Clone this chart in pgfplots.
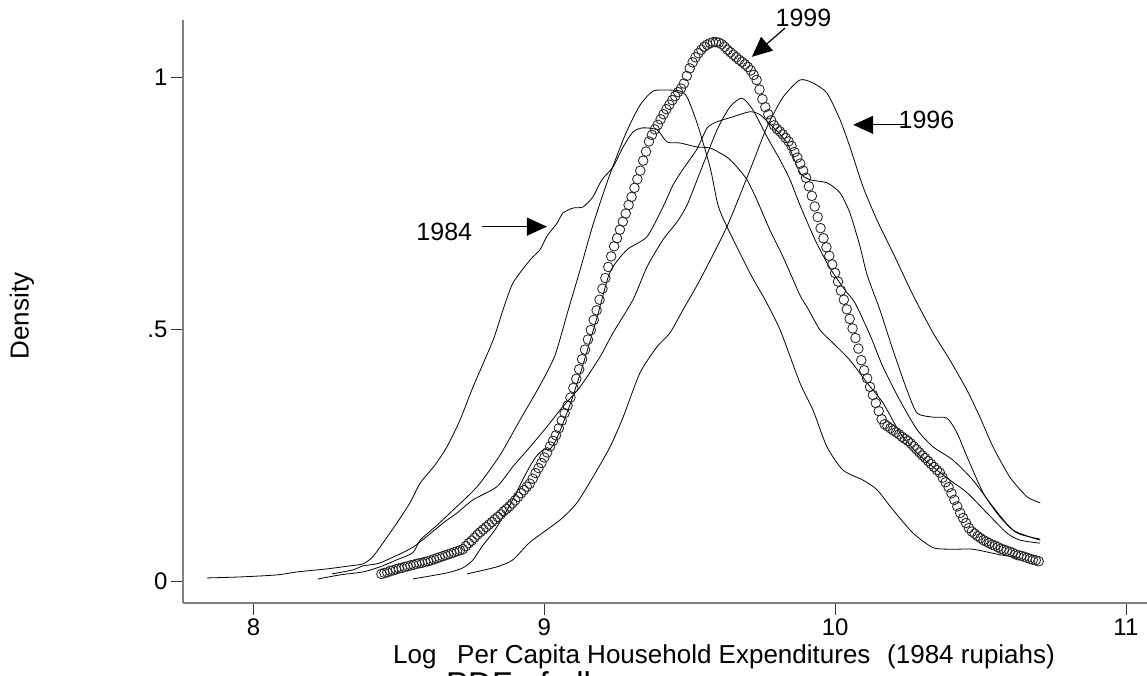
\documentclass[border=0pt]{standalone}
\usepackage{fontspec}
\setmainfont{Liberation Sans}
\usepackage{pgfplots}
\usepackage{pgfplotstable}
\pgfplotsset{compat=1.18}
\usetikzlibrary{arrows.meta}
\pgfplotstableread{
x y
8.44 0.015
8.45 0.017
8.46 0.018
8.47 0.021
8.48 0.022
8.49 0.024
8.50 0.026
8.51 0.027
8.52 0.029
8.53 0.030
8.54 0.032
8.55 0.033
8.56 0.035
8.57 0.036
8.58 0.037
8.59 0.039
8.60 0.040
8.61 0.042
8.62 0.044
8.63 0.046
8.64 0.048
8.65 0.050
8.66 0.052
8.67 0.054
8.68 0.056
8.69 0.058
8.70 0.060
8.71 0.062
8.72 0.064
8.73 0.070
8.74 0.076
8.75 0.081
8.76 0.087
8.77 0.093
8.78 0.098
8.79 0.103
8.80 0.108
8.81 0.113
8.82 0.118
8.83 0.123
8.84 0.128
8.85 0.133
8.86 0.139
8.87 0.144
8.88 0.149
8.89 0.155
8.90 0.161
8.91 0.168
8.92 0.175
8.93 0.181
8.94 0.188
8.95 0.194
8.96 0.204
8.97 0.215
8.98 0.225
8.99 0.235
9.00 0.246
9.01 0.256
9.02 0.268
9.03 0.279
9.04 0.290
9.05 0.304
9.06 0.319
9.07 0.334
9.08 0.349
9.09 0.365
9.10 0.384
9.11 0.402
9.12 0.421
9.13 0.441
9.14 0.460
9.15 0.480
9.16 0.499
9.17 0.519
9.18 0.538
9.19 0.559
9.20 0.581
9.21 0.602
9.22 0.624
9.23 0.645
9.24 0.665
9.25 0.681
9.26 0.698
9.27 0.714
9.28 0.730
9.29 0.747
9.30 0.763
9.31 0.781
9.32 0.798
9.33 0.815
9.34 0.835
9.35 0.853
9.36 0.873
9.37 0.886
9.38 0.897
9.39 0.906
9.40 0.917
9.41 0.927
9.42 0.937
9.43 0.946
9.44 0.955
9.45 0.963
9.46 0.971
9.47 0.978
9.48 0.988
9.49 1.003
9.50 1.018
9.51 1.030
9.52 1.040
9.53 1.048
9.54 1.055
9.55 1.061
9.56 1.065
9.57 1.068
9.58 1.070
9.59 1.070
9.60 1.069
9.61 1.066
9.62 1.061
9.63 1.055
9.64 1.050
9.65 1.045
9.66 1.040
9.67 1.035
9.68 1.031
9.69 1.026
9.70 1.021
9.71 1.014
9.72 1.005
9.73 0.995
9.74 0.976
9.75 0.957
9.76 0.941
9.77 0.927
9.78 0.915
9.79 0.905
9.80 0.898
9.81 0.893
9.82 0.887
9.83 0.880
9.84 0.873
9.85 0.864
9.86 0.852
9.87 0.841
9.88 0.829
9.89 0.815
9.90 0.801
9.91 0.784
9.92 0.765
9.93 0.744
9.94 0.723
9.95 0.701
9.96 0.681
9.97 0.663
9.98 0.646
9.99 0.629
10.00 0.612
10.01 0.595
10.02 0.577
10.03 0.559
10.04 0.540
10.05 0.521
10.06 0.502
10.07 0.483
10.08 0.462
10.09 0.439
10.10 0.419
10.11 0.403
10.12 0.386
10.13 0.370
10.14 0.354
10.15 0.338
10.16 0.322
10.17 0.312
10.18 0.308
10.19 0.304
10.20 0.300
10.21 0.296
10.22 0.292
10.23 0.287
10.24 0.283
10.25 0.279
10.26 0.274
10.27 0.268
10.28 0.262
10.29 0.256
10.30 0.250
10.31 0.245
10.32 0.239
10.33 0.233
10.34 0.227
10.35 0.221
10.36 0.216
10.37 0.206
10.38 0.197
10.39 0.187
10.40 0.175
10.41 0.162
10.42 0.149
10.43 0.136
10.44 0.126
10.45 0.116
10.46 0.106
10.47 0.099
10.48 0.095
10.49 0.090
10.50 0.086
10.51 0.082
10.52 0.079
10.53 0.076
10.54 0.073
10.55 0.071
10.56 0.068
10.57 0.065
10.58 0.063
10.59 0.061
10.60 0.059
10.61 0.057
10.62 0.054
10.63 0.052
10.64 0.051
10.65 0.049
10.66 0.047
10.67 0.045
10.68 0.043
10.69 0.042
10.70 0.040
}\circlesdata
\begin{document}
\begin{tikzpicture}
\useasboundingbox (0,0) rectangle (1147bp,676bp);
\clip (0,0) rectangle (1147bp,676bp);
\begin{axis}[
  at={(183bp,73bp)}, anchor=south west, scale only axis,
  width=964bp, height=583bp,
  xmin=7.7576, xmax=11.0725, ymin=-0.0427, ymax=1.114,
  axis x line*=bottom, axis y line*=left,
  axis line style={-, draw=black!50, line width=1.8bp},
  xtick={8,9,10,11}, xticklabels={8,9,10,11},
  ytick={0,0.5,1}, yticklabels={0,.5,1},
  tick align=outside, major tick length=12bp,
  tick style={black!80, line width=0.7bp},
  ticklabel style={font=\fontsize{24bp}{24bp}\selectfont},
  /pgf/number format/assume math mode=true,
  clip=false,
]
% 1984
\addplot[black, line width=0.8bp, smooth, tension=0.4] coordinates {
(7.840,0.007) (7.954,0.009) (8.081,0.013) (8.150,0.019) (8.253,0.025) (8.332,0.031) (8.377,0.035) (8.407,0.047) (8.435,0.068) (8.493,0.116) (8.538,0.156) (8.573,0.195) (8.624,0.231) (8.665,0.267) (8.710,0.320) (8.755,0.386) (8.824,0.479) (8.858,0.539) (8.892,0.592) (8.951,0.638) (8.985,0.658) (9.009,0.685) (9.044,0.711) (9.064,0.731) (9.099,0.741) (9.133,0.743) (9.167,0.763) (9.198,0.797) (9.236,0.822) (9.271,0.862) (9.305,0.892) (9.339,0.900) (9.388,0.896) (9.422,0.872) (9.467,0.870) (9.525,0.862) (9.570,0.860) (9.628,0.842) (9.663,0.822) (9.697,0.797) (9.731,0.757) (9.776,0.697) (9.821,0.644) (9.879,0.568) (9.903,0.545) (9.948,0.499) (9.993,0.473) (10.051,0.439) (10.110,0.394) (10.165,0.354) (10.223,0.295) (10.282,0.255) (10.337,0.227) (10.395,0.201) (10.454,0.176) (10.522,0.136) (10.591,0.096) (10.636,0.082) (10.705,0.076)};
% B
\addplot[black, line width=0.8bp, smooth, tension=0.4] coordinates {
(8.222,0.005) (8.297,0.013) (8.377,0.019) (8.435,0.029) (8.493,0.043) (8.548,0.057) (8.573,0.082) (8.624,0.108) (8.676,0.136) (8.769,0.188) (8.848,0.251) (8.916,0.320) (8.985,0.389) (9.037,0.449) (9.082,0.538) (9.123,0.618) (9.167,0.707) (9.219,0.797) (9.278,0.886) (9.329,0.945) (9.374,0.973) (9.425,0.975) (9.467,0.973) (9.491,0.961) (9.525,0.910) (9.570,0.822) (9.597,0.747) (9.628,0.704) (9.707,0.612) (9.759,0.559) (9.811,0.499) (9.879,0.394) (9.924,0.340) (9.972,0.267) (10.027,0.221) (10.096,0.201) (10.144,0.182) (10.199,0.142) (10.268,0.096) (10.337,0.067) (10.405,0.064) (10.474,0.064) (10.567,0.053) (10.636,0.047)};
% C
\addplot[black, line width=0.8bp, smooth, tension=0.4] coordinates {
(8.548,0.005) (8.665,0.017) (8.720,0.027) (8.755,0.043) (8.789,0.072) (8.830,0.102) (8.882,0.152) (8.934,0.211) (8.968,0.245) (8.996,0.261) (9.020,0.263) (9.044,0.285) (9.088,0.350) (9.133,0.430) (9.181,0.523) (9.226,0.614) (9.284,0.658) (9.353,0.684) (9.408,0.743) (9.443,0.787) (9.477,0.818) (9.525,0.858) (9.560,0.900) (9.594,0.912) (9.649,0.922) (9.707,0.932) (9.742,0.926) (9.786,0.902) (9.835,0.870) (9.879,0.811) (9.914,0.797) (9.972,0.791) (10.017,0.771) (10.051,0.731) (10.086,0.664) (10.110,0.608) (10.154,0.539) (10.199,0.459) (10.247,0.380) (10.282,0.334) (10.337,0.326) (10.385,0.324) (10.419,0.295) (10.454,0.247) (10.509,0.176) (10.567,0.128) (10.626,0.096) (10.705,0.084)};
% D
\addplot[black, line width=0.8bp, smooth, tension=0.4] coordinates {
(8.270,0.015) (8.342,0.023) (8.377,0.031) (8.435,0.037) (8.548,0.068) (8.652,0.116) (8.700,0.136) (8.755,0.162) (8.837,0.188) (8.892,0.228) (8.951,0.267) (9.009,0.307) (9.064,0.347) (9.123,0.386) (9.192,0.446) (9.236,0.493) (9.305,0.559) (9.353,0.624) (9.408,0.678) (9.456,0.713) (9.491,0.747) (9.535,0.811) (9.594,0.896) (9.639,0.942) (9.680,0.959) (9.718,0.935) (9.766,0.882) (9.811,0.836) (9.845,0.797) (9.879,0.747) (9.931,0.678) (9.982,0.622) (10.034,0.578) (10.068,0.553) (10.120,0.489) (10.165,0.425) (10.223,0.359) (10.282,0.301) (10.337,0.267) (10.405,0.241) (10.474,0.201) (10.543,0.148) (10.612,0.102) (10.705,0.082)};
% 1996
\addplot[black, line width=0.8bp, smooth, tension=0.4] coordinates {
(8.734,0.015) (8.837,0.029) (8.892,0.043) (8.951,0.078) (9.054,0.122) (9.112,0.156) (9.167,0.207) (9.226,0.267) (9.271,0.326) (9.329,0.414) (9.388,0.466) (9.432,0.493) (9.477,0.539) (9.535,0.598) (9.628,0.704) (9.707,0.816) (9.766,0.902) (9.821,0.961) (9.879,0.995) (9.924,0.989) (9.972,0.969) (10.017,0.916) (10.051,0.862) (10.096,0.783) (10.144,0.717) (10.199,0.652) (10.268,0.568) (10.337,0.493) (10.395,0.439) (10.454,0.379) (10.498,0.326) (10.543,0.267) (10.601,0.207) (10.660,0.168) (10.705,0.156)};
% 1999 (circles)
\addplot[only marks, mark=o, mark size=4.8bp, mark options={draw=black!85, line width=0.85bp}] table[x=x, y=y] {\circlesdata};
% annotations
\node[font=\fontsize{25bp}{25bp}\selectfont] at (axis cs:8.656,0.694) {1984};
\draw[line width=1.2bp, -{Triangle[length=20bp,width=18bp]}] (axis cs:8.786,0.704) -- (axis cs:9.009,0.704);
\node[font=\fontsize{25bp}{25bp}\selectfont] at (axis cs:10.314,0.916) {1996};
\draw[line width=1.2bp, -{Triangle[length=20bp,width=18bp]}] (axis cs:10.240,0.906) -- (axis cs:10.062,0.906);
\node[font=\fontsize{25bp}{25bp}\selectfont] at (axis cs:9.891,1.119) {1999};
\draw[line width=1.2bp, -{Triangle[length=20bp,width=18bp]}] (axis cs:9.828,1.098) -- (axis cs:9.714,1.041);
\end{axis}
\node[rotate=90, font=\fontsize{26bp}{26bp}\selectfont] at (22bp,360bp) {Density};
\node[anchor=base west, inner sep=0pt, font=\fontsize{26bp}{26bp}\selectfont] at (393bp,13bp) {Log};
\node[anchor=base west, inner sep=0pt, font=\fontsize{26bp}{26bp}\selectfont] at (457bp,13bp) {Per Capita Household Expenditures};
\node[anchor=base west, inner sep=0pt, font=\fontsize{26bp}{26bp}\selectfont] at (887bp,13bp) {(1984 rupiahs)};
\node[anchor=base west, inner sep=0pt, font=\fontsize{33bp}{33bp}\selectfont] at (446bp,-19bp) {PDF of all};
\end{tikzpicture}
\end{document}
